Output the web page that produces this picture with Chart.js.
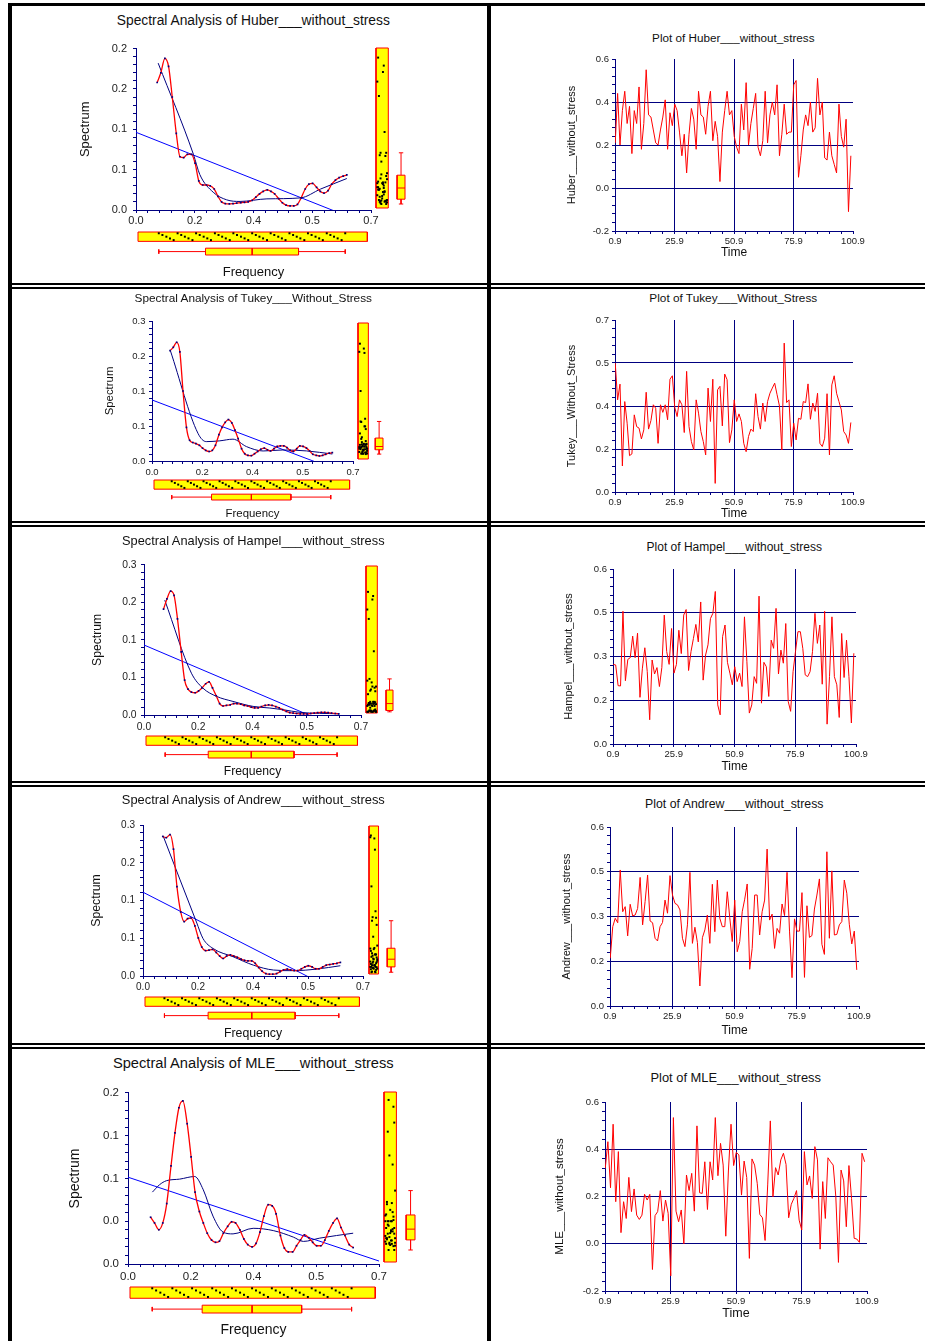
<!DOCTYPE html>
<html>
<head>
<meta charset="utf-8">
<title>Spectral Analysis and Time Plots</title>
<script src="https://cdn.jsdelivr.net/npm/chart.js"></script>
<style>
  html, body { margin: 0; padding: 0; background: #fff; }
  #page { position: relative; width: 925px; height: 1341px; overflow: hidden; background: #fff;
          font-family: "Liberation Sans", Arial, Helvetica, sans-serif; }
  .rule { position: absolute; background: #000; }
  .ttl { position: absolute; white-space: nowrap; transform: translate(-50%, -50%); color: #111; line-height: 1; }
  canvas { position: absolute; }
</style>
</head>
<body>
<div id="page"></div>
<script>
// ---------------- data ----------------
const freqs = [0.063,0.074,0.086,0.097,0.108,0.120,0.131,0.142,0.153,0.165,
               0.176,0.187,0.199,0.210,0.221,0.233,0.244,0.255,0.266,0.278,
               0.289,0.300,0.312,0.323,0.334,0.346,0.357,0.368,0.379,0.391,
               0.402,0.413,0.425,0.436,0.447,0.459,0.470,0.481,0.492,0.504,
               0.515,0.526,0.538,0.549,0.560,0.572,0.583,0.594,0.605,0.617,0.628];
const freqTickLabels = ['0.0', '0.2', '0.4', '0.5', '0.7'];
const timeTickLabels = ['0.9', '25.9', '50.9', '75.9', '100.9'];

const huberSpectrum = [0.158,0.170,0.188,0.178,0.140,0.095,0.066,0.065,0.069,0.069,
                       0.058,0.036,0.031,0.031,0.030,0.026,0.017,0.010,0.008,0.0077,
                       0.008,0.0085,0.009,0.0095,0.010,0.012,0.016,0.020,0.023,0.025,
                       0.023,0.020,0.014,0.009,0.006,0.005,0.005,0.007,0.015,0.026,
                       0.032,0.033,0.028,0.023,0.021,0.024,0.032,0.037,0.040,0.042,0.0435];
const huberSmoothFreq = [0.066,0.171,0.19,0.23,0.27,0.31,0.39,0.49,0.55,0.628];
const huberSmoothVal = [0.182,0.069,0.044,0.022,0.0126,0.0106,0.0138,0.015,0.026,0.039];
const huberTrend = [0.0963, -0.0192];
const huberSpecTicks = ['0.0', '0.1', '0.1', '0.2', '0.2'];

const tukeySpectrum = [0.197,0.203,0.212,0.195,0.125,0.060,0.037,0.033,0.031,0.028,
                       0.023,0.019,0.017,0.019,0.028,0.047,0.060,0.069,0.074,0.068,
                       0.055,0.040,0.022,0.013,0.010,0.0095,0.013,0.017,0.021,0.023,
                       0.020,0.018,0.022,0.026,0.027,0.027,0.024,0.019,0.017,0.022,
                       0.027,0.026,0.023,0.018,0.012,0.010,0.009,0.010,0.012,0.014,0.015];
const tukeySmoothFreq = [0.064,0.160,0.189,0.236,0.282,0.329,0.387,0.456,0.538,0.628];
const tukeySmoothVal = [0.197,0.0495,0.0346,0.036,0.039,0.0257,0.0179,0.0197,0.018,0.0125];
const tukeyTrend = [0.109, -0.027];
const tukeySpecTicks = ['0.0', '0.1', '0.1', '0.2', '0.3'];

const hampelSpectrum = [0.176,0.193,0.206,0.199,0.160,0.105,0.058,0.043,0.038,0.037,
                        0.040,0.045,0.052,0.055,0.045,0.032,0.019,0.015,0.016,0.017,
                        0.019,0.019,0.018,0.016,0.015,0.013,0.012,0.012,0.014,0.016,
                        0.017,0.016,0.014,0.012,0.009,0.006,0.004,0.003,0.0025,0.002,
                        0.002,0.002,0.0025,0.003,0.004,0.0045,0.0045,0.004,0.003,0.0025,0.002];
const hampelSmoothFreq = [0.067,0.153,0.19,0.234,0.287,0.352,0.406,0.449,0.503,0.63];
const hampelSmoothVal = [0.191,0.0695,0.0447,0.031,0.0226,0.0143,0.0116,0.0088,0.0044,0.002];
const hampelTrend = [0.1164, -0.037];
const hampelSpecTicks = ['0.0', '0.1', '0.1', '0.2', '0.3'];

const andrewSpectrum = [0.231,0.229,0.234,0.210,0.148,0.106,0.090,0.095,0.096,0.083,
                        0.063,0.048,0.042,0.043,0.044,0.039,0.033,0.029,0.033,0.035,
                        0.033,0.031,0.028,0.026,0.025,0.025,0.021,0.014,0.008,0.004,
                        0.003,0.003,0.004,0.007,0.010,0.0115,0.010,0.009,0.009,0.012,
                        0.015,0.017,0.015,0.012,0.012,0.015,0.018,0.019,0.020,0.021,0.0225];
const andrewSmoothFreq = [0.064,0.17,0.191,0.223,0.287,0.351,0.415,0.479,0.553,0.628];
const andrewSmoothVal = [0.232,0.0894,0.062,0.0455,0.0318,0.018,0.0099,0.0088,0.0115,0.017];
const andrewTrend = [0.1387, -0.0476];
const andrewSpecTicks = ['0.0', '0.1', '0.1', '0.2', '0.3'];

const mleSpectrum = [0.041,0.036,0.030,0.036,0.053,0.086,0.115,0.137,0.143,0.123,
                     0.094,0.063,0.046,0.036,0.027,0.021,0.019,0.020,0.027,0.033,
                     0.037,0.036,0.030,0.022,0.017,0.015,0.018,0.028,0.042,0.052,
                     0.051,0.044,0.025,0.014,0.0106,0.0106,0.016,0.021,0.0255,0.023,
                     0.019,0.016,0.016,0.021,0.029,0.036,0.040,0.032,0.025,0.017,0.0144];
const mleSmoothFreq = [0.068,0.088,0.107,0.144,0.186,0.21,0.237,0.265,0.293,0.349,0.405,0.461,0.489,0.535,0.628];
const mleSmoothVal = [0.063,0.0695,0.073,0.0744,0.0767,0.065,0.042,0.028,0.0264,0.0313,0.0293,0.0236,0.0198,0.0227,0.027];
const mleTrend = [0.0761, 0.0026];
const mleSpecTicks = ['0.0', '0.0', '0.1', '0.1', '0.2'];

const huberSeries = [0.21,0.44,0.20,0.36,0.45,0.30,0.38,0.16,0.36,0.30,
                     0.47,0.18,0.30,0.55,0.34,0.33,0.27,0.21,0.20,0.27,
                     0.33,0.41,0.18,0.35,0.29,0.39,0.36,0.26,0.15,0.25,
                     0.07,0.25,0.37,0.32,0.18,0.45,0.34,0.33,0.25,0.38,
                     0.45,0.22,0.31,0.24,0.03,0.26,0.36,0.45,0.34,0.36,
                     0.24,0.19,0.16,0.39,0.27,0.49,0.20,0.30,0.37,0.44,
                     0.19,0.15,0.22,0.45,0.21,0.34,0.40,0.34,0.48,0.15,
                     0.25,0.39,0.25,0.26,0.26,0.48,0.50,0.05,0.15,0.27,
                     0.34,0.29,0.40,0.26,0.28,0.51,0.34,0.40,0.14,0.13,
                     0.26,0.15,0.11,0.07,0.39,0.24,0.19,0.32,-0.11,0.15];
const huberSeriesTicks = ['-0.2', '0.0', '0.2', '0.4', '0.6'];

const tukeySeries = [0.525,0.375,0.439,0.106,0.368,0.280,0.148,0.155,0.314,0.266,
                     0.260,0.216,0.253,0.406,0.256,0.291,0.355,0.341,0.198,0.355,
                     0.324,0.355,0.294,0.459,0.473,0.345,0.307,0.375,0.355,0.242,
                     0.491,0.266,0.205,0.171,0.375,0.321,0.246,0.205,0.151,0.423,
                     0.287,0.459,0.035,0.416,0.430,0.269,0.480,0.457,0.201,0.253,
                     0.375,0.287,0.318,0.287,0.198,0.164,0.226,0.256,0.246,0.400,
                     0.307,0.256,0.362,0.287,0.368,0.402,0.423,0.443,0.396,0.350,
                     0.171,0.606,0.364,0.375,0.185,0.280,0.212,0.300,0.296,0.368,
                     0.364,0.440,0.296,0.362,0.328,0.402,0.198,0.185,0.219,0.400,
                     0.151,0.436,0.473,0.402,0.368,0.334,0.246,0.232,0.198,0.283];
const tukeySeriesTicks = ['0.0', '0.2', '0.4', '0.5', '0.7'];

const hampelSeries = [0.273,0.271,0.200,0.199,0.455,0.217,0.290,0.296,0.370,0.296,
                      0.380,0.160,0.260,0.330,0.248,0.083,0.288,0.240,0.262,0.197,
                      0.262,0.442,0.317,0.273,0.396,0.243,0.273,0.390,0.310,0.442,
                      0.461,0.252,0.317,0.362,0.410,0.350,0.487,0.219,0.305,0.340,
                      0.430,0.448,0.523,0.134,0.100,0.368,0.408,0.280,0.243,0.203,
                      0.265,0.214,0.243,0.197,0.436,0.282,0.106,0.134,0.231,0.208,
                      0.507,0.140,0.280,0.265,0.163,0.356,0.328,0.465,0.240,0.322,
                      0.277,0.413,0.146,0.112,0.248,0.317,0.385,0.385,0.328,0.237,
                      0.231,0.248,0.317,0.448,0.345,0.408,0.205,0.455,0.068,0.231,
                      0.436,0.231,0.203,0.091,0.379,0.228,0.356,0.231,0.072,0.311];
const hampelSeriesTicks = ['0.0', '0.2', '0.3', '0.5', '0.6'];

const andrewSeries = [0.160,0.266,0.294,0.279,0.456,0.316,0.333,0.235,0.341,0.302,
                      0.305,0.327,0.431,0.272,0.350,0.439,0.285,0.279,0.227,0.218,
                      0.266,0.280,0.355,0.311,0.437,0.372,0.344,0.339,0.322,0.227,
                      0.199,0.272,0.448,0.210,0.264,0.213,0.067,0.229,0.255,0.305,
                      0.210,0.408,0.249,0.422,0.294,0.266,0.266,0.383,0.296,0.216,
                      0.355,0.182,0.216,0.316,0.358,0.409,0.123,0.193,0.372,0.372,
                      0.238,0.316,0.355,0.526,0.288,0.308,0.193,0.260,0.244,0.342,
                      0.303,0.448,0.251,0.095,0.292,0.251,0.251,0.380,0.096,0.336,
                      0.230,0.236,0.325,0.372,0.426,0.207,0.173,0.517,0.227,0.453,
                      0.238,0.240,0.272,0.283,0.422,0.378,0.274,0.208,0.251,0.121];
const andrewSeriesTicks = ['0.0', '0.2', '0.3', '0.5', '0.6'];

const mleSeries = [0.319,0.432,0.237,0.506,0.178,0.390,0.047,0.178,0.107,0.281,
                   0.136,0.232,0.121,0.103,0.121,0.209,0.185,0.209,-0.109,0.119,
                   0.136,0.225,0.096,0.185,0.129,-0.136,0.534,0.138,0.093,0.143,
                   0.000,0.291,0.225,0.298,0.138,0.499,0.216,0.213,0.347,0.145,
                   0.347,0.270,0.534,0.288,0.425,0.333,0.032,0.308,0.506,0.331,
                   0.387,0.376,0.206,0.350,0.280,-0.062,0.359,0.333,0.256,0.124,
                   0.110,0.014,0.249,0.520,0.199,0.322,0.291,0.355,0.383,0.336,
                   0.110,0.167,0.192,0.225,0.100,0.058,0.390,0.249,0.287,0.192,
                   0.411,0.355,-0.023,0.263,0.107,0.364,0.347,0.333,0.199,-0.079,
                   0.312,0.266,0.072,0.331,0.192,0.023,0.020,0.006,0.383,0.347];
const mleSeriesTicks = ['-0.2', '0.0', '0.2', '0.4', '0.6'];

// ---------------- drawing ----------------
const NAVY = '#000080';
const RED = '#ff0000';
const YELLOW = '#ffff00';
Chart.defaults.font.family = '"Liberation Sans", Arial, Helvetica, sans-serif';
Chart.defaults.color = '#222';

const page = document.getElementById('page');

function rule(x, y, w, h) {
  const d = document.createElement('div');
  d.className = 'rule';
  Object.assign(d.style, {left: x + 'px', top: y + 'px', width: w + 'px', height: h + 'px'});
  page.appendChild(d);
}

function label(text, cx, cy, size) {
  const d = document.createElement('div');
  d.className = 'ttl';
  d.textContent = text;
  Object.assign(d.style, {left: cx + 'px', top: cy + 'px', fontSize: size + 'px'});
  page.appendChild(d);
}

function canvasAt(x, y, w, h) {
  const c = document.createElement('canvas');
  c.width = w; c.height = h;
  Object.assign(c.style, {left: x + 'px', top: y + 'px', width: w + 'px', height: h + 'px'});
  page.appendChild(c);
  return c;
}

// 4 labelled intervals, each split in 5 -> 21 tick marks
function ticks21(min, max) {
  const out = [];
  for (let i = 0; i <= 20; i++) out.push({value: min + (max - min) * i / 20});
  return out;
}

function axis(o) {
  return {
    type: 'linear', min: o.min, max: o.max,
    afterBuildTicks: s => { s.ticks = ticks21(o.min, o.max); },
    afterFit: s => { if (o.horizontal) s.height = o.size; else s.width = o.size; },
    ticks: {
      autoSkip: false, maxRotation: 0, minRotation: 0, padding: o.pad, color: '#222',
      font: {size: o.tickSize},
      callback: (v, i) => (i % 5 === 0 ? o.labels[i / 5] : '')
    },
    grid: {
      drawOnChartArea: !!o.grid, tickLength: 3, tickColor: NAVY, lineWidth: 1,
      color: c => (o.grid && c.index % 5 === 0 && c.index > 0 && c.index < 20) ? NAVY : 'rgba(0,0,0,0)'
    },
    border: {display: true, color: NAVY, width: 1},
    title: {
      display: true, text: o.title, color: '#111', font: {size: o.titleSize},
      padding: o.horizontal ? {top: 0, bottom: o.titleOffset} : {top: o.titleOffset, bottom: 0}
    }
  };
}

const baseOptions = {
  responsive: false, animation: false, events: [], devicePixelRatio: 1,
  plugins: {legend: {display: false}, tooltip: {enabled: false}}
};

function quantile(s, p) {
  const pos = (s.length - 1) * p, lo = Math.floor(pos), hi = Math.ceil(pos);
  return s[lo] + (s[hi] - s[lo]) * (pos - lo);
}
function boxStats(arr) {
  const s = [...arr].sort((a, b) => a - b);
  const q1 = quantile(s, 0.25), med = quantile(s, 0.5), q3 = quantile(s, 0.75);
  const iqr = q3 - q1;
  const lo = s.find(v => v >= q1 - 1.5 * iqr);
  const hi = [...s].reverse().find(v => v <= q3 + 1.5 * iqr);
  return {q1, med, q3, lo, hi};
}

function rectSet(x0, x1, y0, y1) {
  return {
    data: [{x: x0, y: y0}, {x: x1, y: y0}, {x: x1, y: y1}, {x: x0, y: y1}, {x: x0, y: y0}],
    showLine: true, fill: 'shape', backgroundColor: YELLOW, borderColor: RED, borderWidth: 1,
    pointRadius: 0, clip: false, tension: 0
  };
}
function segSet(x0, y0, x1, y1) {
  return {data: [{x: x0, y: y0}, {x: x1, y: y1}], showLine: true, borderColor: RED,
          borderWidth: 1, pointRadius: 0, clip: false, tension: 0};
}
function marginalChart(canvas, xMin, xMax, yMin, yMax, yReverse, datasets) {
  new Chart(canvas, {
    type: 'scatter',
    data: {datasets},
    options: Object.assign({}, baseOptions, {
      layout: {padding: 2},
      scales: {
        x: {type: 'linear', display: false, min: xMin, max: xMax},
        y: {type: 'linear', display: false, min: yMin, max: yMax, reverse: yReverse}
      }
    })
  });
}

function spectralPanel(p) {
  const cl = 13, ct = p.plot.t - 10, cr = p.plot.r + 14, cb = p.freqY + 10;
  const c = canvasAt(cl, ct, cr - cl, cb - ct);
  new Chart(c, {
    type: 'scatter',
    data: {datasets: [
      {data: freqs.map((f, i) => ({x: f, y: p.spec[i]})), showLine: true,
       cubicInterpolationMode: 'monotone', tension: 0.4, borderColor: RED, borderWidth: 1.3,
       pointRadius: 1.2, pointStyle: 'rect', pointBackgroundColor: NAVY, pointBorderWidth: 0},
      {data: p.smoothF.map((f, i) => ({x: f, y: p.smoothV[i]})), showLine: true,
       cubicInterpolationMode: 'monotone', tension: 0.4, borderColor: NAVY, borderWidth: 1, pointRadius: 0},
      {data: [{x: 0, y: p.trend[0]}, {x: 0.7, y: p.trend[1]}], showLine: true,
       borderColor: '#0000ff', borderWidth: 1, pointRadius: 0}
    ]},
    options: Object.assign({}, baseOptions, {
      layout: {padding: {left: 0, top: p.plot.t - ct, right: cr - p.plot.r, bottom: 0}},
      scales: {
        x: axis({min: 0, max: 0.7, labels: freqTickLabels, horizontal: true, size: cb - p.plot.b,
                 tickSize: p.tickSize, pad: p.xPad, title: 'Frequency', titleSize: p.labelSize,
                 titleOffset: cb - p.freqY - p.labelSize * 0.6}),
        y: axis({min: 0, max: p.yMax, labels: p.yLabels, size: p.plot.l - cl,
                 tickSize: p.tickSize, pad: p.yPad, title: 'Spectrum', titleSize: p.labelSize,
                 titleOffset: p.spectrumX - cl - p.labelSize * 0.6})
      }
    })
  });

  // right margin: dot strip of spectrum values + box plot
  const rsW = p.rs[1] - p.rs[0], W = p.rb[1] - p.rs[0], H = p.plot.b - p.plot.t;
  const sv = boxStats(p.spec);
  const bx0 = p.rb[0] - p.rs[0], bx1 = W, bm = (bx0 + bx1) / 2;
  marginalChart(canvasAt(p.rs[0] - 2, p.plot.t - 2, W + 4, H + 4), 0, W, 0, p.yMax, false, [
    {data: p.spec.map((v, i) => ({x: 1.5 + ((i * 7) % 13) / 12 * (rsW - 3), y: v})),
     pointRadius: 1.4, pointStyle: 'rect', pointBackgroundColor: '#000', pointBorderWidth: 0, clip: false},
    segSet(bx0, sv.med, bx1, sv.med),
    segSet(bm, sv.q3, bm, sv.hi),
    segSet(bm, sv.q1, bm, sv.lo),
    segSet(bm - 2.5, sv.hi, bm + 2.5, sv.hi),
    segSet(bm - 2.5, sv.lo, bm + 2.5, sv.lo),
    rectSet(bx0, bx1, sv.q1, sv.q3),
    rectSet(0, rsW, 0, p.yMax)
  ]);

  // bottom margin: dot strip of frequencies + box plot
  const sh = p.bs[1] - p.bs[0], Hb = p.bb[1] - p.bs[0];
  const by0 = p.bb[0] - p.bs[0], by1 = Hb, bym = (by0 + by1) / 2;
  const fs = boxStats(freqs);
  marginalChart(canvasAt(p.plot.l - 2, p.bs[0] - 2, p.plot.r - p.plot.l + 4, Hb + 4), 0, 0.7, 0, Hb, true, [
    {data: freqs.map((f, i) => ({x: f, y: 1.5 + (i % 5) / 4 * (sh - 3)})),
     pointRadius: 1.4, pointStyle: 'rect', pointBackgroundColor: '#000', pointBorderWidth: 0, clip: false},
    segSet(fs.med, by0, fs.med, by1),
    segSet(fs.lo, bym, fs.q1, bym),
    segSet(fs.q3, bym, fs.hi, bym),
    segSet(fs.lo, bym - 2.5, fs.lo, bym + 2.5),
    segSet(fs.hi, bym - 2.5, fs.hi, bym + 2.5),
    rectSet(fs.q1, fs.q3, by0, by1),
    rectSet(0, 0.695, 0, sh)
  ]);

  label(p.title, 253.3, p.titleY, p.titleSize);
}

function timePanel(p) {
  const cl = 493, ct = p.plot.t - 10, cr = 921, cb = p.timeY + 10;
  const c = canvasAt(cl, ct, cr - cl, cb - ct);
  new Chart(c, {
    type: 'scatter',
    data: {datasets: [
      {data: p.series.map((v, i) => ({x: i + 1, y: v})), showLine: true, tension: 0,
       borderColor: RED, borderWidth: 1, pointRadius: 0}
    ]},
    options: Object.assign({}, baseOptions, {
      layout: {padding: {left: 0, top: p.plot.t - ct, right: cr - p.plot.r, bottom: 0}},
      scales: {
        x: axis({min: 0.9, max: 100.9, labels: timeTickLabels, horizontal: true, size: cb - p.plot.b,
                 tickSize: 9.5, pad: 1.5, title: 'Time', titleSize: p.axisSize, grid: true,
                 titleOffset: cb - p.timeY - p.axisSize * 0.6}),
        y: axis({min: p.yMin, max: p.yMax, labels: p.yLabels, size: p.plot.l - cl,
                 tickSize: 9.5, pad: 3, title: p.yTitle, titleSize: p.yTitleSize, grid: true,
                 titleOffset: p.yTitleX - cl - p.yTitleSize * 0.6})
      }
    })
  });
  label(p.title, p.titleX, p.titleY, p.titleSize);
}

// table rules
rule(8, 3, 917, 3);
rule(8, 3, 4, 1338);
rule(487, 3, 4, 1338);
[283, 521, 781, 1043].forEach(y => { rule(8, y, 917, 2); rule(8, y + 4, 917, 2); });

spectralPanel({title: 'Spectral Analysis of Huber___without_stress', titleY: 20.7, titleSize: 13.8,
  spec: huberSpectrum, smoothF: huberSmoothFreq, smoothV: huberSmoothVal, trend: huberTrend,
  yMax: 0.2, yLabels: huberSpecTicks, plot: {l: 136, r: 371, t: 46, b: 210},
  rs: [374, 388], rb: [398, 407], bs: [230, 241], bb: [249, 257],
  freqY: 272, spectrumX: 85, labelSize: 13, tickSize: 11, xPad: 1.5, yPad: 6});
spectralPanel({title: 'Spectral Analysis of Tukey___Without_Stress', titleY: 299, titleSize: 11.8,
  spec: tukeySpectrum, smoothF: tukeySmoothFreq, smoothV: tukeySmoothVal, trend: tukeyTrend,
  yMax: 0.25, yLabels: tukeySpecTicks, plot: {l: 152, r: 353, t: 321, b: 461},
  rs: [356, 368], rb: [376, 385], bs: [478, 489], bb: [495, 502],
  freqY: 514, spectrumX: 110, labelSize: 11.4, tickSize: 9.5, xPad: 3, yPad: 3.5});
spectralPanel({title: 'Spectral Analysis of Hampel___without_stress', titleY: 541, titleSize: 12.8,
  spec: hampelSpectrum, smoothF: hampelSmoothFreq, smoothV: hampelSmoothVal, trend: hampelTrend,
  yMax: 0.25, yLabels: hampelSpecTicks, plot: {l: 144, r: 361, t: 564, b: 715},
  rs: [364, 377], rb: [387, 395], bs: [734, 745], bb: [752, 760],
  freqY: 772, spectrumX: 98, labelSize: 12.2, tickSize: 10.3, xPad: 2.5, yPad: 4.5});
spectralPanel({title: 'Spectral Analysis of Andrew___without_stress', titleY: 800, titleSize: 12.9,
  spec: andrewSpectrum, smoothF: andrewSmoothFreq, smoothV: andrewSmoothVal, trend: andrewTrend,
  yMax: 0.25, yLabels: andrewSpecTicks, plot: {l: 143, r: 363, t: 824, b: 976},
  rs: [367, 378], rb: [388, 397], bs: [995, 1006], bb: [1013, 1021],
  freqY: 1034, spectrumX: 97, labelSize: 12.3, tickSize: 10, xPad: 2.3, yPad: 5});
spectralPanel({title: 'Spectral Analysis of MLE___without_stress', titleY: 1063, titleSize: 14.7,
  spec: mleSpectrum, smoothF: mleSmoothFreq, smoothV: mleSmoothVal, trend: mleTrend,
  yMax: 0.15, yLabels: mleSpecTicks, plot: {l: 128, r: 379, t: 1090, b: 1264},
  rs: [382, 396], rb: [407, 417], bs: [1285, 1298], bb: [1306, 1315],
  freqY: 1330, spectrumX: 75, labelSize: 14, tickSize: 11.5, xPad: 3.4, yPad: 6});

timePanel({title: 'Plot of Huber___without_stress', titleX: 733.3, titleY: 38, titleSize: 11.7,
  series: huberSeries, yMin: -0.2, yMax: 0.6, yLabels: huberSeriesTicks, plot: {l: 615, r: 853, t: 59, b: 231},
  timeY: 253, axisSize: 12, yTitle: 'Huber___without_stress', yTitleX: 572, yTitleSize: 11});
timePanel({title: 'Plot of Tukey___Without_Stress', titleX: 733.3, titleY: 299, titleSize: 11.8,
  series: tukeySeries, yMin: 0, yMax: 0.7, yLabels: tukeySeriesTicks, plot: {l: 615, r: 853, t: 320, b: 492},
  timeY: 514, axisSize: 12, yTitle: 'Tukey___Without_Stress', yTitleX: 572, yTitleSize: 11});
timePanel({title: 'Plot of Hampel___without_stress', titleX: 734.3, titleY: 547, titleSize: 12,
  series: hampelSeries, yMin: 0, yMax: 0.6, yLabels: hampelSeriesTicks, plot: {l: 613, r: 856, t: 569, b: 744},
  timeY: 767, axisSize: 12, yTitle: 'Hampel___without_stress', yTitleX: 569, yTitleSize: 11});
timePanel({title: 'Plot of Andrew___without_stress', titleX: 734.3, titleY: 804, titleSize: 12.3,
  series: andrewSeries, yMin: 0, yMax: 0.6, yLabels: andrewSeriesTicks, plot: {l: 610, r: 859, t: 827, b: 1006},
  timeY: 1031, axisSize: 12, yTitle: 'Andrew___without_stress', yTitleX: 567, yTitleSize: 11});
timePanel({title: 'Plot of MLE___without_stress', titleX: 735.7, titleY: 1078, titleSize: 12.9,
  series: mleSeries, yMin: -0.2, yMax: 0.6, yLabels: mleSeriesTicks, plot: {l: 605, r: 867, t: 1102, b: 1291},
  timeY: 1314, axisSize: 12.5, yTitle: 'MLE___without_stress', yTitleX: 560, yTitleSize: 11.5});
</script>
</body>
</html>
